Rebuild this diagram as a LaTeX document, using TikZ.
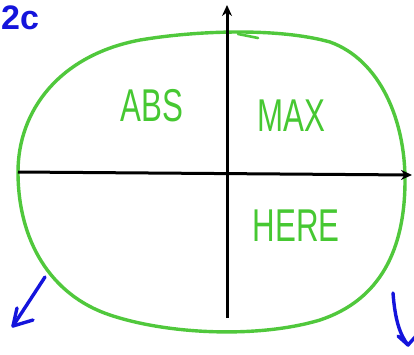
\documentclass[tikz,border=0pt]{standalone}
\usepackage{fontspec}
\setmainfont{Liberation Sans}
\usetikzlibrary{arrows.meta}
\begin{document}
\begin{tikzpicture}[x=1pt,y=-1pt,
  grn/.style={draw={rgb,255:red,80;green,200;blue,60},line width=3.4pt,line cap=round,line join=round},
  axis/.style={draw=black,line width=3pt,-{Stealth[length=11pt,width=10pt]}},
  blu/.style={draw={rgb,255:red,20;green,20;blue,220},line width=3.4pt,line cap=round,line join=round},
  lbl/.style={text={rgb,255:red,70;green,200;blue,50},font=\fontsize{46}{48}\selectfont}]
\useasboundingbox (0,0) rectangle (414,354);
\clip (0,0) rectangle (414,354);
\fill[white] (0,0) rectangle (414,354);
% closed green curve
\draw[grn] (18,172) .. controls (18,110) and (60,55) .. (140,40)
  .. controls (200,30) and (280,28) .. (330,42)
  .. controls (380,60) and (405,120) .. (405,180)
  .. controls (405,250) and (380,300) .. (320,320)
  .. controls (260,338) and (170,335) .. (110,315)
  .. controls (50,295) and (18,240) .. (18,172) -- cycle;
\draw[grn,line width=2.6pt] (238,34) -- (258,38);
% axes
\coordinate (vb) at (227,318);
\coordinate (vt) at (227,5);
\coordinate (hl) at (18,172);
\coordinate (hr) at (412,175);
\draw[axis] (vb) -- (vt);
\draw[axis] (hl) -- (hr);
% labels
\node[lbl] (abs) at (152,106) {\scalebox{0.68}[1]{ABS}};
\node[lbl] (max) at (291,116) {\scalebox{0.68}[1]{MAX}};
\node[lbl] (here) at (296,226) {\scalebox{0.68}[1]{HERE}};
% blue arrows
\coordinate (a1s) at (45,277);
\coordinate (a1e) at (13,326);
\draw[blu] (a1s) -- (a1e);
\draw[blu] (17,308) -- (13,326) -- (33,320);
\coordinate (a2s) at (393,293);
\coordinate (a2e) at (408,345);
\draw[blu] (a2s) .. controls (395,320) and (400,335) .. (a2e);
\draw[blu] (398,336) -- (408,345) -- (416,336);
% blue text at top left
\node[text={rgb,255:red,20;green,20;blue,220},font=\fontsize{34}{36}\bfseries\selectfont,anchor=base west,inner sep=0pt] (tl) at (1,29) {2c};
\end{tikzpicture}
\end{document}
